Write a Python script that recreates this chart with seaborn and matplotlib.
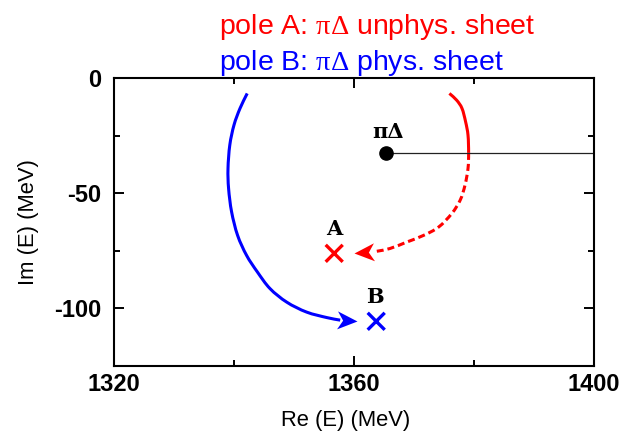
import numpy as np
import pandas as pd
import matplotlib
matplotlib.use("Agg")
import matplotlib.pyplot as plt
from matplotlib.path import Path
from matplotlib.patches import PathPatch
from matplotlib.markers import MarkerStyle
from matplotlib.transforms import Affine2D
import seaborn as sns

# Pole trajectories in the complex energy plane (MeV)
blue_re = [1342.2, 1341.0, 1340.0, 1339.3, 1339.0, 1339.1, 1339.6, 1340.6,
           1342.1, 1343.9, 1346.0, 1348.8, 1352.1, 1355.5, 1357.7]
blue_im = [-6.7, -13.2, -20.4, -29.1, -39.3, -48.0, -58.1, -68.3,
           -77.0, -84.2, -91.4, -97.3, -101.6, -104.0, -105.1]
blue_tip = (1360.45, -105.5)

red_solid_re = [1375.9, 1377.1, 1378.0, 1378.6, 1379.0, 1379.1]
red_solid_im = [-6.7, -9.6, -13.2, -19.0, -24.8, -32.5]
red_dash_re = [1379.1, 1379.0, 1378.5, 1377.7, 1376.3, 1374.1, 1371.6,
               1368.8, 1366.0, 1363.8]
red_dash_im = [-32.5, -39.3, -46.5, -53.0, -58.8, -64.7, -68.3,
               -71.2, -74.0, -75.2]
red_tip = (1360.0, -75.8)

# Threshold and pole positions
threshold = (1365.3, -32.5)
pole_a = (1356.7, -76.1)
pole_b = (1363.7, -105.6)

re_ticks = [1320, 1360, 1400]
re_minor = [1340, 1380]
im_ticks = [0, -50, -100]
im_minor = [-25, -75]
re_range = (1320, 1400)
im_range = (-125, 0)

title_a = r"pole A: $\mathrm{\pi\Delta}$ unphys. sheet"
title_b = r"pole B: $\mathrm{\pi\Delta}$ phys. sheet"

sns.set_theme(style="ticks")
plt.rcParams["font.family"] = ["Liberation Sans", "DejaVu Sans"]
plt.rcParams["mathtext.fontset"] = "custom"
plt.rcParams["mathtext.rm"] = "Liberation Serif"

RED = "#ff0000"
BLUE = "#0000ff"

fig = plt.figure(figsize=(6.26, 4.38), dpi=100)
ax = fig.add_axes([0.1821, 0.1644, 0.7668, 0.6575])
ax.set_xlim(*re_range)
ax.set_ylim(*im_range)

# threshold cut
sns.lineplot(x=[threshold[0], re_range[1]], y=[threshold[1], threshold[1]],
             ax=ax, color="#222222", lw=0.9, sort=False, estimator=None)
ax.plot([threshold[0]], [threshold[1]], "o", color="black", ms=9.5, zorder=5)


def smooth_segments(xs, ys):
    """Cubic Bezier segments (Catmull-Rom) passing through the given points."""
    p = np.column_stack([xs, ys]).astype(float)
    ext = np.vstack([2 * p[0] - p[1], p, 2 * p[-1] - p[-2]])
    segs = []
    for i in range(1, len(ext) - 2):
        p0, p1, p2, p3 = ext[i - 1], ext[i], ext[i + 1], ext[i + 2]
        segs.append((p1, p1 + (p2 - p0) / 6, p2 - (p3 - p1) / 6, p2))
    return segs


def draw_curve(segs, color, **kw):
    verts = [segs[0][0]]
    codes = [Path.MOVETO]
    for _, c1, c2, e in segs:
        verts += [c1, c2, e]
        codes += [Path.CURVE4] * 3
    ax.add_patch(PathPatch(Path(verts, codes), fill=False, edgecolor=color,
                           lw=2.2, capstyle="butt", **kw))


# trajectories
draw_curve(smooth_segments(blue_re, blue_im), BLUE)
red_segs = smooth_segments(red_solid_re + red_dash_re[1:],
                           red_solid_im + red_dash_im[1:])
n_solid = len(red_solid_re) - 1
draw_curve(red_segs[:n_solid], RED)
draw_curve(red_segs[n_solid:], RED, linestyle=(0, (2.3, 1.3)))

# notched arrow heads
head = Path([(0, 0), (-1, 0.45), (-0.72, 0), (-1, -0.45), (0, 0)],
            [Path.MOVETO, Path.LINETO, Path.LINETO, Path.LINETO, Path.CLOSEPOLY])


def arrow_head(prev, tip, color):
    p0 = ax.transData.transform(prev)
    p1 = ax.transData.transform(tip)
    ang = np.degrees(np.arctan2(p1[1] - p0[1], p1[0] - p0[0]))
    m = MarkerStyle(head, transform=Affine2D().rotate_deg(ang))
    ax.plot([tip[0]], [tip[1]], marker=m, ms=28.8, color=color,
            mew=0, linestyle="none", zorder=4)


arrow_head((blue_re[-1], blue_im[-1]), blue_tip, BLUE)
arrow_head((red_dash_re[-1], red_dash_im[-1]), red_tip, RED)

# poles
poles = pd.DataFrame({"re": [pole_a[0], pole_b[0]],
                      "im": [pole_a[1], pole_b[1]],
                      "pole": ["A", "B"]})
sns.scatterplot(data=poles, x="re", y="im", hue="pole",
                palette={"A": RED, "B": BLUE}, marker="x", s=150,
                linewidth=2.4, legend=False, ax=ax, zorder=5)

lab_kw = dict(textcoords="offset points", ha="center", va="baseline",
              fontsize=15, fontweight="bold",
              family=["DejaVu Serif"], color="black")
ax.annotate("A", pole_a, xytext=(0, 13.5), **lab_kw)
ax.annotate("B", pole_b, xytext=(-0.7, 13.5), **lab_kw)
ax.annotate("πΔ", threshold, xytext=(1.5, 11), **lab_kw)

# axes styling
ax.set_xlabel("")
ax.set_ylabel("")
ax.set_xticks(re_ticks)
ax.set_xticklabels([str(v) for v in re_ticks])
ax.set_xticks(re_minor, minor=True)
ax.set_yticks(im_ticks)
ax.set_yticklabels([str(v) for v in im_ticks])
ax.set_yticks(im_minor, minor=True)
ax.tick_params(which="both", direction="in", top=True, right=True,
               width=1.4, color="black")
ax.tick_params(which="major", length=7)
ax.tick_params(which="minor", length=4.3)
ax.tick_params(axis="x", which="major", pad=5)
ax.tick_params(axis="y", which="major", pad=9)
for lbl in ax.get_xticklabels() + ax.get_yticklabels():
    lbl.set_fontsize(17)
    lbl.set_fontweight("bold")
    lbl.set_color("black")
for s in ax.spines.values():
    s.set_linewidth(1.5)
    s.set_color("black")
    s.set_visible(True)

ax.set_xlabel("Re (E) (MeV)", fontsize=15.8, color="black", va="center")
ax.set_ylabel("Im (E) (MeV)", fontsize=15.8, color="black", va="center")
ax.xaxis.set_label_coords(0.483, -0.191)
ax.yaxis.set_label_coords(-0.179, 0.5)

fig.text(219 / 626, 1 - 34 / 438, title_a, color=RED, fontsize=20.5,
         ha="left", va="baseline")
fig.text(219 / 626, 1 - 70 / 438, title_b, color=BLUE, fontsize=20.5,
         ha="left", va="baseline")

fig.savefig("out.png", dpi=100)
